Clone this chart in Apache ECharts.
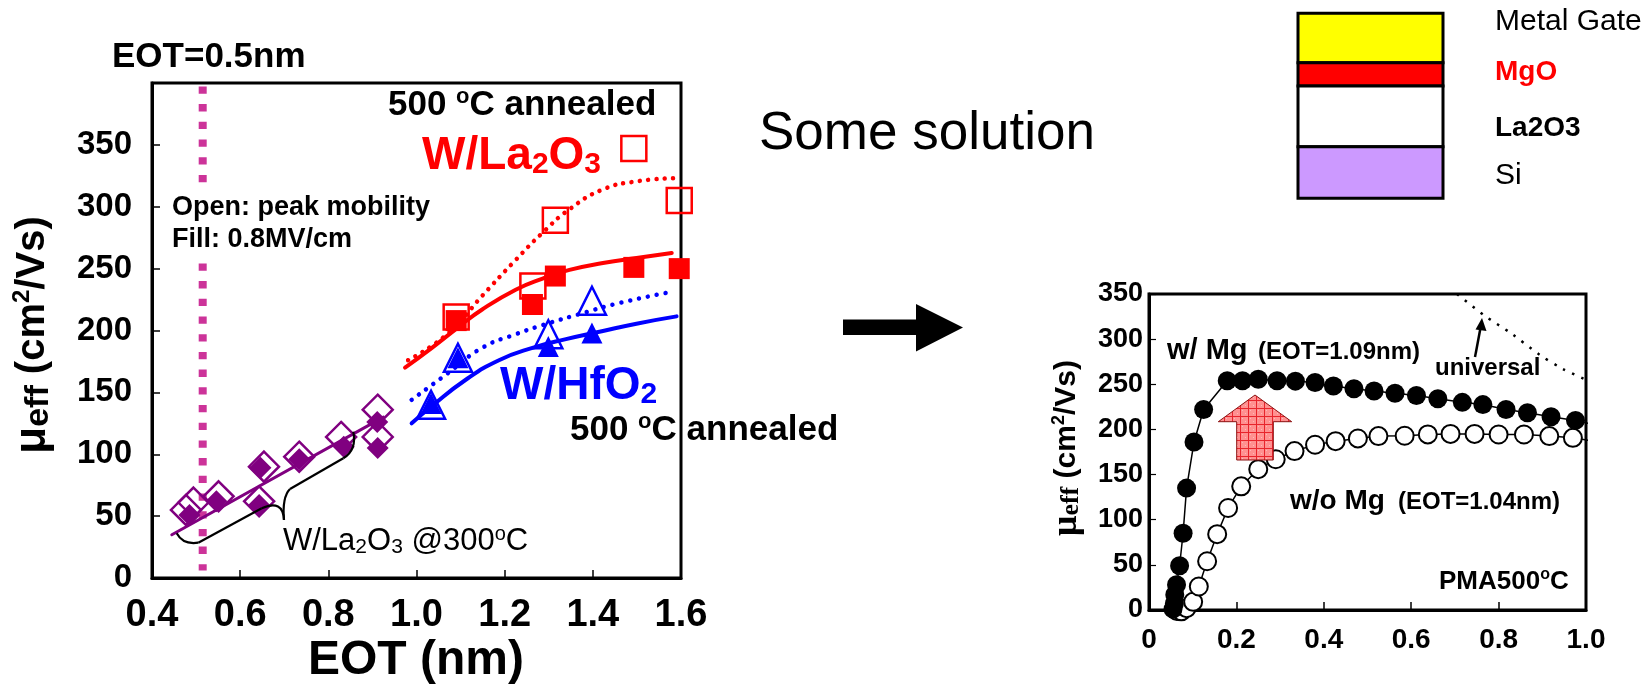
<!DOCTYPE html>
<html><head><meta charset="utf-8">
<script src="https://cdn.jsdelivr.net/npm/echarts@6/dist/echarts.min.js"></script>
<style>html,body{margin:0;padding:0;background:#fff}#c{width:1652px;height:687px}</style>
</head><body><div id="c"></div>
<script>
// ---------- DATA: left chart (EOT vs mobility) ----------
const leftXTicks = [0.4, 0.6, 0.8, 1.0, 1.2, 1.4, 1.6];
const leftYTicks = [0, 50, 100, 150, 200, 250, 300, 350];
const eotLine = [[0.515, 400], [0.515, 6]];
const la300Open = [[0.477, 55], [0.494, 61], [0.551, 66], [0.643, 62], [0.654, 90], [0.734, 98], [0.829, 114], [0.912, 136], [0.912, 114]];
const la300Fill = [[0.485, 51], [0.546, 62], [0.643, 59], [0.646, 89], [0.734, 96], [0.835, 106], [0.911, 126], [0.912, 105]];
const la300Fit = [[0.445, 35], [0.925, 130]];
const laOpen = [[1.09, 211], [1.264, 236], [1.315, 289], [1.493, 347], [1.596, 305]];
const laFill = [[1.09, 208], [1.263, 221], [1.315, 244], [1.493, 251], [1.596, 250]];
const laFitDot = [[0.981, 176], [1.073, 198], [1.149, 228], [1.225, 257], [1.286, 279], [1.347, 298], [1.423, 314], [1.499, 320.5], [1.583, 323]];
const laFitSolid = [[0.974, 170], [1.035, 186], [1.096, 203], [1.149, 217], [1.225, 233], [1.286, 242], [1.347, 249], [1.423, 254.5], [1.499, 258.6], [1.579, 262.6]];
const hfOpen = [[1.033, 140], [1.094, 178], [1.299, 197], [1.398, 224]];
const hfFill = [[1.033, 141], [1.094, 178], [1.299, 187], [1.398, 198]];
const hfFitDot = [[0.989, 144], [1.073, 166], [1.149, 186], [1.225, 197], [1.301, 206], [1.377, 214], [1.453, 221.6], [1.583, 231.6]];
const hfFitSolid = [[0.989, 125], [1.035, 139], [1.111, 160], [1.187, 176], [1.263, 186], [1.339, 193], [1.415, 199], [1.499, 205.5], [1.59, 211.4]];

// ---------- DATA: right chart (mobility vs field) ----------
const rightXTicks = [0, 0.2, 0.4, 0.6, 0.8, 1.0];
const rightYTicks = [0, 50, 100, 150, 200, 250, 300, 350];
const withMg = [[0.055, 1], [0.058, 7], [0.059, 17], [0.063, 28], [0.07, 49], [0.078, 85], [0.086, 135], [0.103, 186], [0.125, 222],
  [0.179, 254], [0.214, 254], [0.25, 255.5], [0.293, 254], [0.335, 253.5], [0.38, 252], [0.422, 248], [0.469, 245], [0.515, 242.6],
  [0.563, 240], [0.612, 237.5], [0.661, 234], [0.717, 230], [0.764, 227.5], [0.817, 222], [0.866, 218.5], [0.92, 214], [0.976, 210]];
const withMgTail = [1.031, 204];
const withoutMg = [[0.059, 2], [0.064, -1], [0.074, -1.5], [0.086, 2], [0.101, 9], [0.114, 26], [0.133, 54], [0.156, 84], [0.181, 113], [0.211, 137],
  [0.25, 156], [0.29, 167], [0.333, 176], [0.38, 183], [0.427, 187], [0.478, 190], [0.525, 192.6], [0.585, 193], [0.638, 194.5],
  [0.69, 195], [0.745, 195], [0.80, 194.4], [0.858, 194.4], [0.916, 192.6], [0.97, 190.7]];
const withoutMgTail = [1.031, 186];
const universal = [[0.705, 350], [0.768, 326], [0.83, 306], [0.893, 283], [0.947, 267], [0.996, 256]];

// ---------- STYLE ----------
const FF = '"Liberation Sans", Arial, Helvetica, sans-serif';
const TF = '"Liberation Serif", "Times New Roman", serif';
function R(size, weight, color, extra) {
  return Object.assign({ fontSize: size, fontWeight: weight, fontFamily: FF, fill: color, color: color }, extra || {});
}
function T(x, y, text, rich, extra, el) {
  return Object.assign({
    type: 'text', x: x, y: y, z: 50, silent: true,
    style: Object.assign({
      text: text, rich: rich || undefined, fontFamily: FF, fontSize: 20, fontWeight: 'normal', fill: '#000',
      align: 'left', verticalAlign: 'middle', textAlign: 'left', textVerticalAlign: 'middle'
    }, extra || {})
  }, el || {});
}
function F(size, weight, color, extra) {
  return Object.assign({ fontSize: size, fontWeight: weight, fill: color || '#000' }, extra || {});
}

// pattern for pink arrow
const pc = document.createElement('canvas');
pc.width = 8; pc.height = 8;
const pctx = pc.getContext('2d');
pctx.fillStyle = '#ff9090'; pctx.fillRect(0, 0, 8, 8);
pctx.fillStyle = '#ffb8b8'; pctx.fillRect(2, 2, 1, 1); pctx.fillRect(5, 5, 1, 1);
pctx.fillStyle = '#e8242c'; pctx.fillRect(0, 0, 8, 1); pctx.fillRect(0, 0, 1, 8);

const chart = echarts.init(document.getElementById('c'), null, { renderer: 'canvas' });

const axisLineS = { show: true, lineStyle: { color: '#000', width: 3 } };
const tickS = { show: true, inside: true, length: 8, lineStyle: { color: '#000', width: 1.5 } };

function sc(name, data, symbol, size, fill, border, bw, xi) {
  return {
    type: 'scatter', name: name, data: data, symbol: symbol, symbolSize: size,
    xAxisIndex: xi || 0, yAxisIndex: xi || 0, silent: true,
    itemStyle: { color: fill, borderColor: border, borderWidth: bw, opacity: 1 }
  };
}
function ln(name, data, color, width, type, smooth, extra) {
  return Object.assign({
    type: 'line', name: name, data: data, showSymbol: false, symbol: 'none', smooth: smooth,
    xAxisIndex: 0, yAxisIndex: 0, silent: true,
    lineStyle: { color: color, width: width, type: type, cap: 'round' }
  }, extra || {});
}
const none = 'rgba(0,0,0,0)';
const braceStyle = { stroke: '#000', lineWidth: 2.2, fill: null };
function bz(x1, y1, cx, cy, x2, y2) {
  return { type: 'bezierCurve', z: 40, silent: true, shape: { x1: x1, y1: y1, cpx1: cx, cpy1: cy, x2: x2, y2: y2 }, style: braceStyle };
}
function sg(x1, y1, x2, y2) {
  return { type: 'line', z: 40, silent: true, shape: { x1: x1, y1: y1, x2: x2, y2: y2 }, style: braceStyle };
}
const annealedRich = {
  a: R(35, 'bold', '#000', { lineHeight: 38 }),
  s: R(22, 'bold', '#000', { verticalAlign: 'top', lineHeight: 24 })
};

const option = {
  animation: false,
  backgroundColor: '#fff',
  grid: [
    { left: 152, top: 83, width: 529, height: 495, show: true, borderColor: '#000', borderWidth: 3 },
    { left: 1149, top: 294, width: 437, height: 316, show: true, borderColor: '#000', borderWidth: 3 }
  ],
  xAxis: [
    { type: 'value', gridIndex: 0, min: leftXTicks[0], max: leftXTicks[leftXTicks.length - 1], interval: 0.2,
      axisLine: axisLineS, axisTick: tickS, splitLine: { show: false },
      axisLabel: { fontSize: 38, fontWeight: 'bold', fontFamily: FF, color: '#000', margin: 19,
        formatter: v => v.toFixed(1) } },
    { type: 'value', gridIndex: 1, min: rightXTicks[0], max: rightXTicks[rightXTicks.length - 1], interval: 0.2,
      axisLine: axisLineS, axisTick: tickS, splitLine: { show: false },
      axisLabel: { fontSize: 28, fontWeight: 'bold', fontFamily: FF, color: '#000', margin: 16,
        formatter: v => (Math.abs(v) < 1e-9 ? '0' : v.toFixed(1)) } }
  ],
  yAxis: [
    { type: 'value', gridIndex: 0, min: 0, max: 400, interval: 50,
      axisLine: axisLineS, axisTick: tickS, splitLine: { show: false },
      axisLabel: { fontSize: 33, fontWeight: 'bold', fontFamily: FF, color: '#000', margin: 20,
        formatter: v => (leftYTicks.indexOf(Math.round(v)) >= 0 ? String(Math.round(v)) : '') } },
    { type: 'value', gridIndex: 1, min: 0, max: rightYTicks[rightYTicks.length - 1], interval: 50,
      axisLine: axisLineS, axisTick: { show: true, inside: true, length: 7, lineStyle: { color: '#000', width: 1.2 } },
      splitLine: { show: false },
      axisLabel: { fontSize: 27, fontWeight: 'bold', fontFamily: FF, color: '#000', margin: 6 } }
  ],
  series: [
    ln('eot', eotLine, '#CC3399', 8, [7.3, 10.4], false, { lineStyle: { color: '#CC3399', width: 8, type: [7.3, 10.4], dashOffset: 14.3, cap: 'butt' }, z: 1 }),
    ln('la300fit', la300Fit, '#800080', 3, 'solid', false),
    sc('la300open', la300Open, 'diamond', 30, none, '#800080', 2.5),
    sc('la300fill', la300Fill, 'diamond', 22, '#800080', '#800080', 0),
    ln('laDot', laFitDot, '#ff0000', 4.5, [0.01, 8.3], true),
    ln('laSolid', laFitSolid, '#ff0000', 4, 'solid', true),
    ln('hfDot', hfFitDot, '#0000ff', 4.5, [0.01, 9], true),
    ln('hfSolid', hfFitSolid, '#0000ff', 4, 'solid', true),
    sc('laOpen', laOpen, 'rect', 25, none, '#ff0000', 2.5),
    sc('laFill', laFill, 'rect', 21, '#ff0000', '#ff0000', 0),
    sc('hfOpen', hfOpen, 'triangle', 28, none, '#0000ff', 2.5),
    sc('hfFill', hfFill, 'triangle', 21, '#0000ff', '#0000ff', 0),
    // right chart
    { type: 'line', name: 'universal', data: universal, xAxisIndex: 1, yAxisIndex: 1, symbol: 'none', smooth: 0.3, silent: true,
      lineStyle: { color: '#000', width: 2.5, type: [2.5, 7.5], cap: 'butt' } },
    { type: 'line', name: 'w/o Mg', xAxisIndex: 1, yAxisIndex: 1, clip: false, silent: true,
      data: withoutMg.concat([{ value: withoutMgTail, symbol: 'none' }]),
      symbol: 'circle', symbolSize: 18, showAllSymbol: true,
      itemStyle: { color: '#fff', borderColor: '#000', borderWidth: 2 },
      lineStyle: { color: '#000', width: 1.5 } },
    { type: 'line', name: 'w/ Mg', xAxisIndex: 1, yAxisIndex: 1, clip: false, silent: true,
      data: withMg.concat([{ value: withMgTail, symbol: 'none' }]),
      symbol: 'circle', symbolSize: 19, showAllSymbol: true,
      itemStyle: { color: '#000', borderColor: '#000', borderWidth: 0 },
      lineStyle: { color: '#000', width: 1.5 } }
  ],
  graphic: [
    // left chart titles
    T(33, 335, '{m|μ}{e|eff}{t| (cm}{p|2}{t|/Vs)}', {
      m: R(44, 'bold', '#000', { lineHeight: 46 }),
      e: R(34, 'bold', '#000', { verticalAlign: 'bottom', lineHeight: 34 }),
      t: R(40, 'bold', '#000', { lineHeight: 46 }),
      p: R(24, 'bold', '#000', { verticalAlign: 'top', lineHeight: 22 })
    }, { align: 'center', textAlign: 'center' }, { rotation: Math.PI / 2 }),
    T(416, 661, 'EOT (nm)', null, F(48, 'bold', '#000', { align: 'center', textAlign: 'center' })),
    T(112, 57, 'EOT=0.5nm', null, F(35, 'bold')),
    T(388, 105, '{a|500 }{s|o}{a|C annealed}', annealedRich),
    T(422, 156, '{a|W/La}{s|2}{a|O}{s|3}', {
      a: R(46, 'bold', '#ff0000', { lineHeight: 48 }),
      s: R(30, 'bold', '#ff0000', { verticalAlign: 'bottom', lineHeight: 12 })
    }),
    T(172, 224, 'Open: peak mobility\nFill: 0.8MV/cm', null, F(27, 'bold', '#000', {
      lineHeight: 32, backgroundColor: '#fff', padding: [4, 0, 4, 0]
    })),
    T(500, 386, '{a|W/HfO}{s|2}', {
      a: R(46, 'bold', '#0000ff', { lineHeight: 48 }),
      s: R(30, 'bold', '#0000ff', { verticalAlign: 'bottom', lineHeight: 12 })
    }),
    T(570, 430, '{a|500 }{s|o}{a|C annealed}', annealedRich, null, { z: -1 }),
    T(283, 541, '{a|W/La}{s|2}{a|O}{s|3}{a| @300}{p|o}{a|C}', {
      a: R(31, 'normal', '#000', { lineHeight: 34 }),
      s: R(21, 'normal', '#000', { verticalAlign: 'bottom', lineHeight: 12 }),
      p: R(20, 'normal', '#000', { verticalAlign: 'top', lineHeight: 22 })
    }),
    // curly brace
    bz(176.7, 533.3, 183, 545, 198.3, 542.7),
    sg(198.3, 542.7, 261.7, 508.3),
    bz(261.7, 508.3, 283, 499, 284, 520),
    bz(284, 520, 282, 497, 290, 489),
    sg(290, 489, 343.3, 458.3),
    bz(343.3, 458.3, 357, 450, 353.3, 431.7),
    // middle
    T(759, 134, 'Some solution', null, F(53, 'normal')),
    { type: 'polygon', z: 40, silent: true,
      shape: { points: [[843, 319.5], [916, 319.5], [916, 304], [963, 327.5], [916, 351.5], [916, 335], [843, 335]] },
      style: { fill: '#000' } },
    // layer stack
    { type: 'rect', z: 40, silent: true, shape: { x: 1298, y: 13.3, width: 145, height: 49.4 }, style: { fill: '#ffff00', stroke: '#000', lineWidth: 3 } },
    { type: 'rect', z: 40, silent: true, shape: { x: 1298, y: 62.7, width: 145, height: 23.3 }, style: { fill: '#ff0000', stroke: '#000', lineWidth: 3 } },
    { type: 'rect', z: 40, silent: true, shape: { x: 1298, y: 86, width: 145, height: 60.7 }, style: { fill: '#ffffff', stroke: '#000', lineWidth: 3 } },
    { type: 'rect', z: 40, silent: true, shape: { x: 1298, y: 146.7, width: 145, height: 51.6 }, style: { fill: '#cc99ff', stroke: '#000', lineWidth: 3 } },
    T(1495, 22, 'Metal Gate', null, F(30, 'normal')),
    T(1495, 72, 'MgO', null, F(28, 'bold', '#ff0000')),
    T(1495, 128, 'La2O3', null, F(28, 'bold')),
    T(1495, 176, 'Si', null, F(30, 'normal')),
    // right chart annotations
    T(1067, 448, '{m|μ}{e|eff}{t| (cm}{p|2}{t|/Vs)}', {
      m: { fontSize: 36, fontWeight: 'bold', fontFamily: TF, fill: '#000', lineHeight: 34 },
      e: { fontSize: 26, fontWeight: 'bold', fontFamily: TF, fill: '#000', verticalAlign: 'bottom', lineHeight: 22 },
      t: R(30, 'bold', '#000', { lineHeight: 34 }),
      p: R(18, 'bold', '#000', { verticalAlign: 'top', lineHeight: 20 })
    }, { align: 'center', textAlign: 'center' }, { rotation: Math.PI / 2 }),
    T(1167, 351, 'w/ Mg', null, F(29, 'bold')),
    T(1258, 352, '(EOT=1.09nm)', null, F(24, 'bold')),
    T(1290, 501, 'w/o Mg', null, F(28, 'bold')),
    T(1398, 502, '(EOT=1.04nm)', null, F(24, 'bold')),
    T(1435, 368, 'universal', null, F(24, 'bold')),
    T(1439, 582, '{a|PMA500}{s|o}{a|C}', {
      a: R(26, 'bold', '#000', { lineHeight: 30 }),
      s: R(16, 'bold', '#000', { verticalAlign: 'top', lineHeight: 20 })
    }),
    { type: 'line', z: 40, silent: true, shape: { x1: 1475, y1: 357, x2: 1480.5, y2: 328 }, style: { stroke: '#000', lineWidth: 2.5 } },
    { type: 'polygon', z: 40, silent: true, shape: { points: [[1482, 318], [1486.5, 331], [1475.5, 329.5]] }, style: { fill: '#000' } },
    { type: 'polygon', z: 40, silent: true,
      shape: { points: [[1255, 395], [1291.7, 421.7], [1273.3, 421.7], [1273.3, 460], [1236.7, 460], [1236.7, 421.7], [1218.3, 421.7]] },
      style: { fill: { image: pc, repeat: 'repeat' }, stroke: '#8a1010', lineWidth: 1 } }
  ]
};
chart.setOption(option);
</script>
</body></html>
